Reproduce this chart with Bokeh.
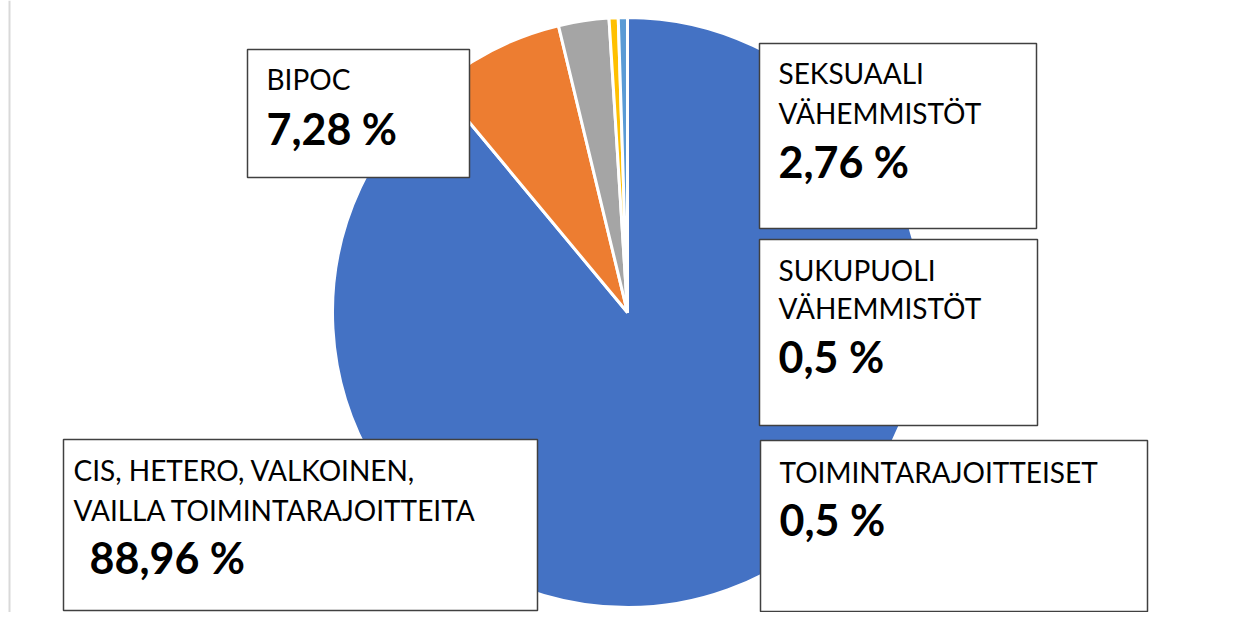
import math
from bokeh.plotting import figure
from bokeh.models import Range1d, Span, ColumnDataSource
from bokeh.core.properties import value
from bokeh.embed import file_html
from bokeh.resources import INLINE

# ---- data ----
categories = [
    "CIS, HETERO, VALKOINEN, VAILLA TOIMINTARAJOITTEITA",
    "BIPOC",
    "SEKSUAALI VÄHEMMISTÖT",
    "SUKUPUOLI VÄHEMMISTÖT",
    "TOIMINTARAJOITTEISET",
]
values = [88.96, 7.28, 2.76, 0.5, 0.5]
value_labels = ["88,96 %", "7,28 %", "2,76 %", "0,5 %", "0,5 %"]
name_lines = [
    ["CIS, HETERO, VALKOINEN,", "VAILLA TOIMINTARAJOITTEITA"],
    ["BIPOC"],
    ["SEKSUAALI", "VÄHEMMISTÖT"],
    ["SUKUPUOLI", "VÄHEMMISTÖT"],
    ["TOIMINTARAJOITTEISET"],
]
colors = ["#4472C4", "#ED7D31", "#A5A5A5", "#FFC000", "#5B9BD5"]

# ---- layout (image pixel coordinates; y measured from top) ----
W, H = 1221, 612
def Y(y):
    return H - y

cx, cy, r = 627, 312, 295

# label boxes: left, right, top, bottom (image px)
boxes = [
    (63, 537, 439, 610),
    (247, 469, 49, 177),
    (759, 1036, 43, 228),
    (759, 1037, 239, 425),
    (760, 1147, 440, 611),
]
# text x start, name line y, value line y, value x
text_pos = [
    (73, [469, 509], 557, 89),
    (266, [78], 128, 266),
    (778, [72, 112], 161, 778),
    (778, [269, 307], 356, 778),
    (779, [471], 519, 779),
]

p = figure(width=W, height=H, output_backend="svg", toolbar_location=None,
           x_range=Range1d(0, W), y_range=Range1d(0, H),
           min_border=0, min_border_left=0, min_border_right=0,
           min_border_top=0, min_border_bottom=0)
p.axis.visible = False
p.grid.visible = False
p.outline_line_color = None
p.background_fill_color = "white"
p.border_fill_color = "white"

# pie slices: start at top, clockwise
total = sum(values)
starts, ends = [], []
acc = 0.0
for v in values:
    starts.append(math.pi / 2 - 2 * math.pi * acc / total)
    acc += v
    ends.append(math.pi / 2 - 2 * math.pi * acc / total)

src = ColumnDataSource(dict(cat=categories, val=values, color=colors,
                            start=starts, end=ends))
p.wedge(x=cx, y=Y(cy), radius=r, start_angle="start", end_angle="end",
        direction="clock", fill_color="color", line_color="white", line_width=3,
        source=src)

# left border line
p.add_layout(Span(location=9, dimension="height", line_color="#d9d9d9", line_width=2))

# boxes
p.quad(left=[b[0] for b in boxes], right=[b[1] for b in boxes],
       top=[Y(b[2]) for b in boxes], bottom=[Y(b[3]) for b in boxes],
       fill_color="white", line_color="#404040", line_width=1.5)

# texts
nx, ny, nt = [], [], []
vx, vy, vt = [], [], []
for (tx, nbs, vb, vxx), lines, vl in zip(text_pos, name_lines, value_labels):
    for line, b in zip(lines, nbs):
        nx.append(tx); ny.append(Y(b)); nt.append(line)
    vx.append(vxx); vy.append(Y(vb)); vt.append(vl)

p.text(x=nx, y=ny, text=nt, text_font=value("Lato"), text_font_size="28px",
       text_color="black", text_baseline="middle", text_align="left")
p.text(x=vx, y=vy, text=vt, text_font=value("Lato"), text_font_size="43px",
       text_font_style="bold", text_color="black", text_baseline="middle",
       text_align="left")

open("out.html", "w").write(file_html(p, INLINE))
